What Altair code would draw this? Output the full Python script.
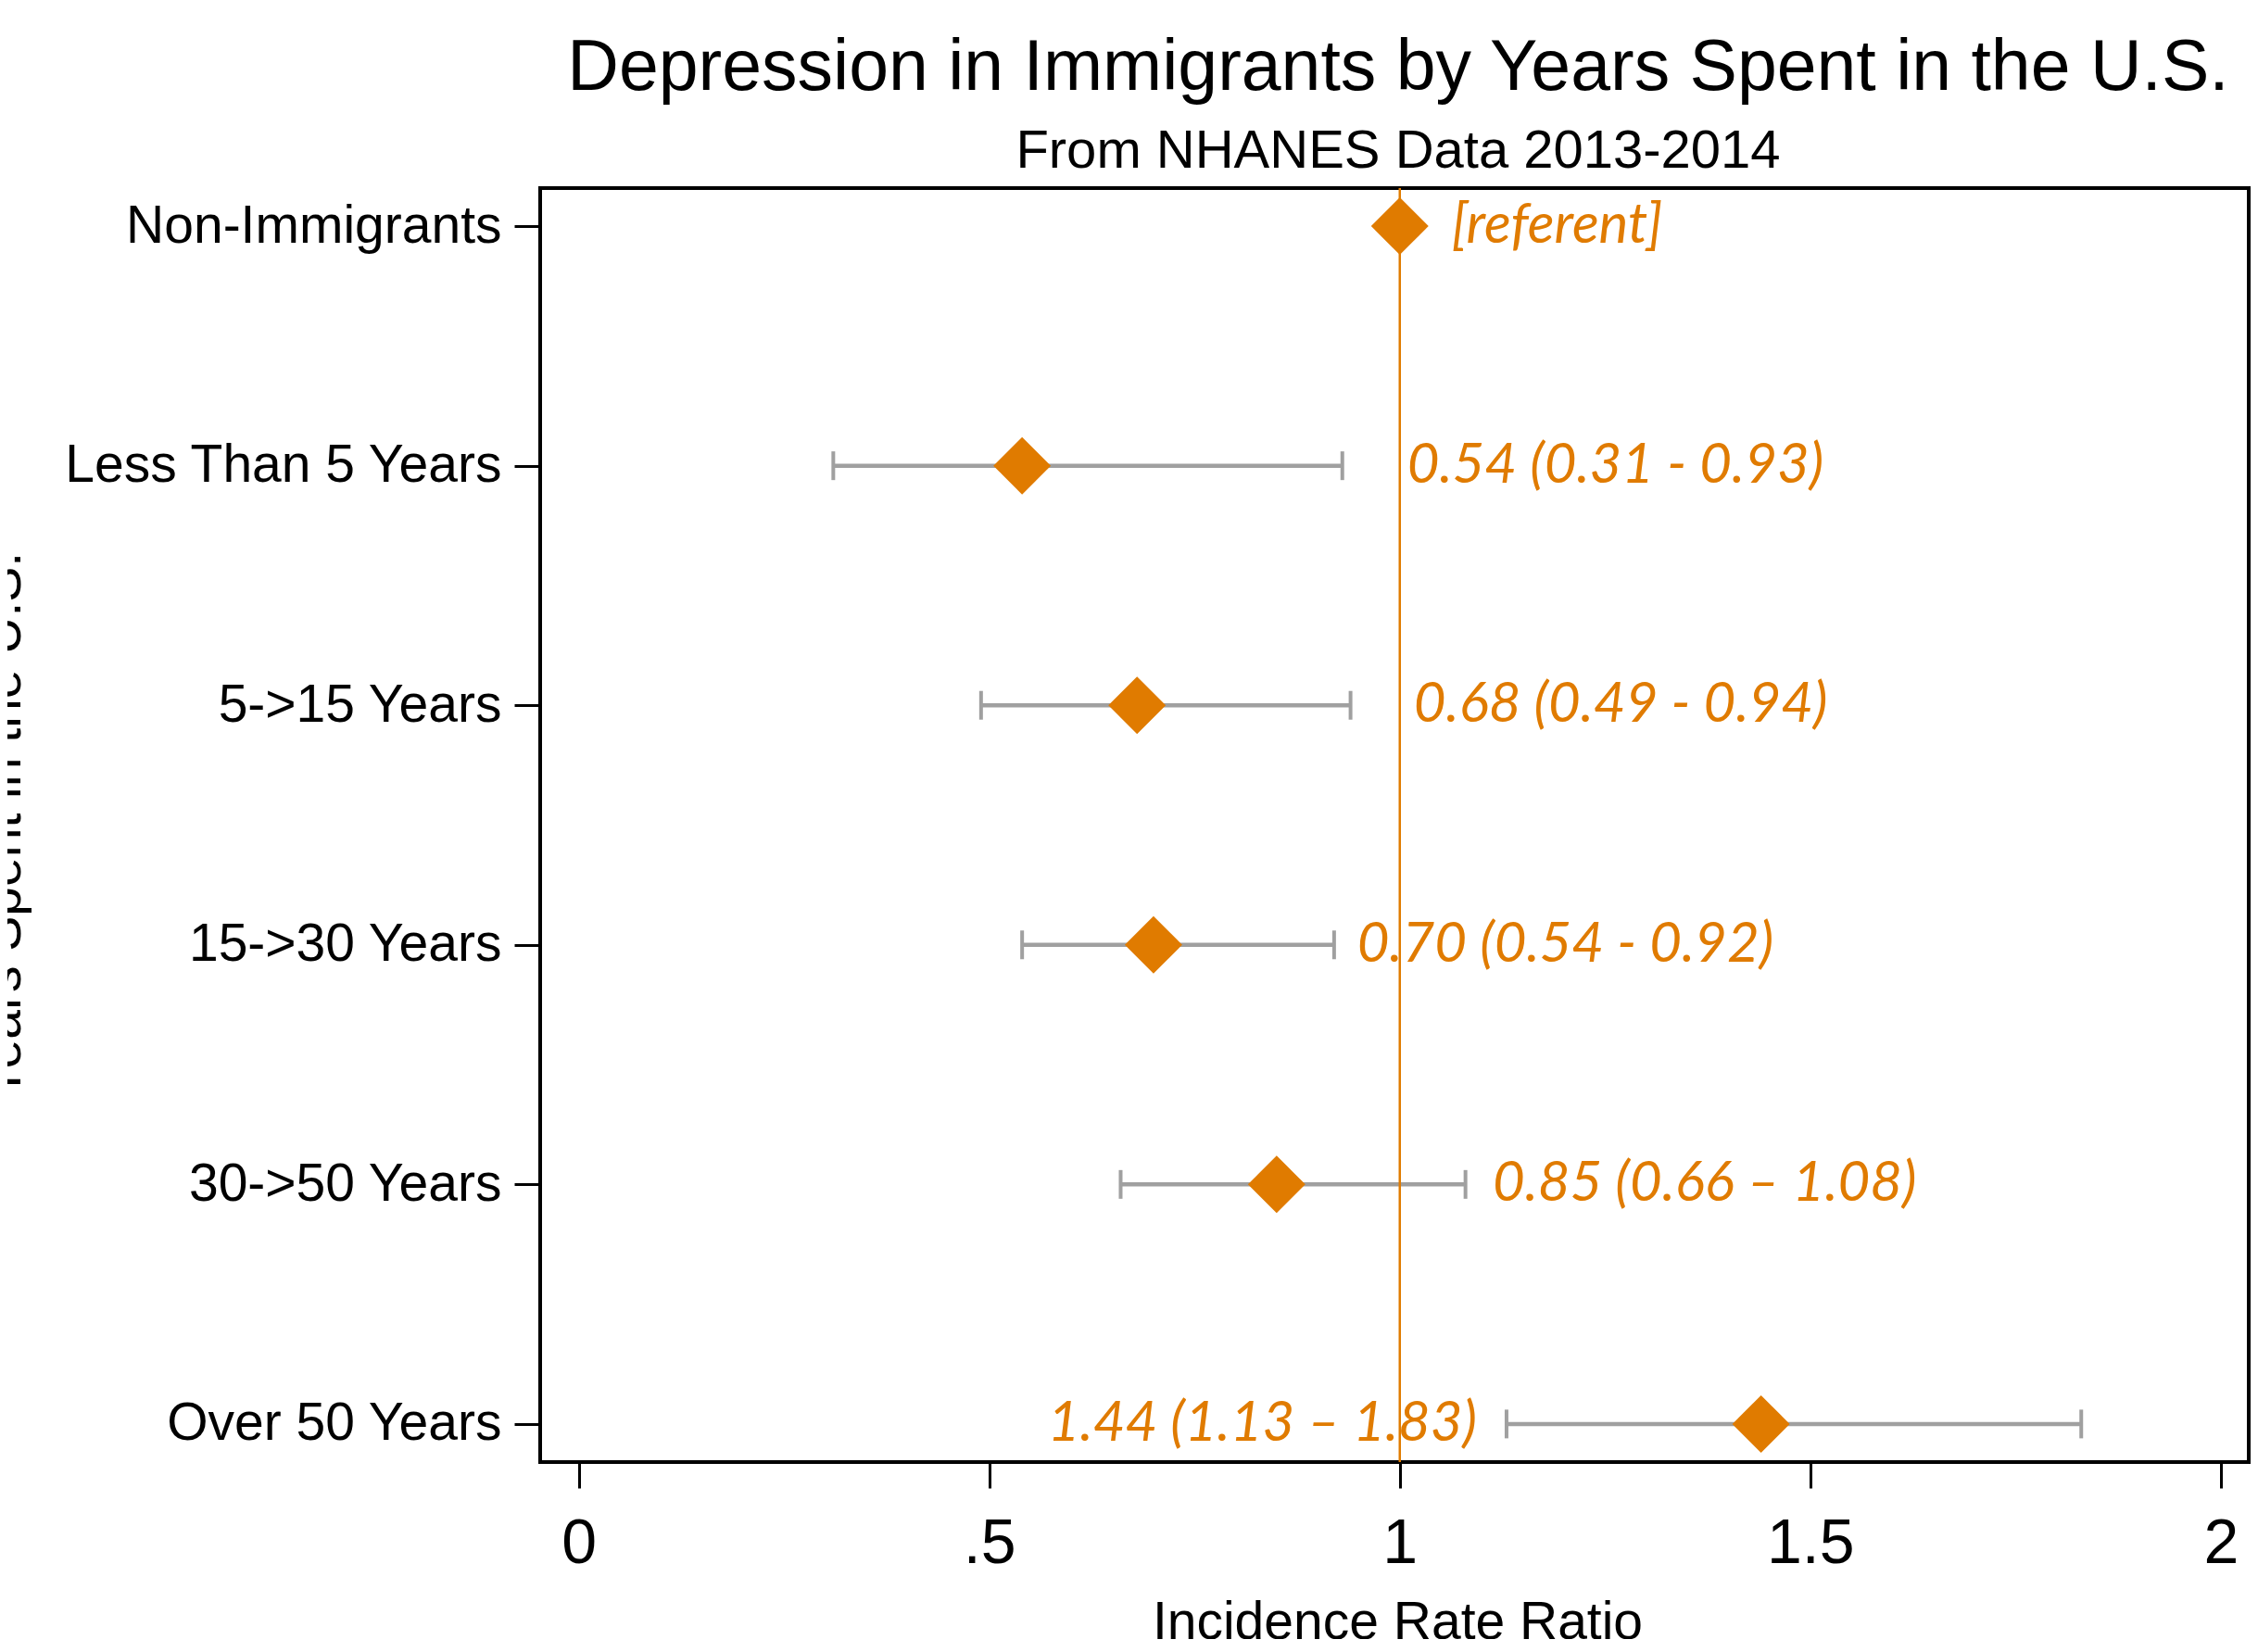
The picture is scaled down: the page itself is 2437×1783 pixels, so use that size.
import altair as alt
import pandas as pd

# ---- data ----
categories = ["Non-Immigrants", "Less Than 5 Years", "5->15 Years",
              "15->30 Years", "30->50 Years", "Over 50 Years"]
irr = [1.00, 0.54, 0.68, 0.70, 0.85, 1.44]
ci_lo = [None, 0.31, 0.49, 0.54, 0.66, 1.13]
ci_hi = [None, 0.93, 0.94, 0.92, 1.08, 1.83]
labels = ["[referent]", "0.54 (0.31 - 0.93)", "0.68 (0.49 - 0.94)",
          "0.70 (0.54 - 0.92)", "0.85 (0.66 \u2013 1.08)", "1.44 (1.13 \u2013 1.83)"]
label_at = [1.063, 1.009, 1.017, 0.948, 1.113, 1.094]
label_side = ["left", "left", "left", "left", "left", "right"]
referent = [1.0]
x_ticks = [0, 0.5, 1, 1.5, 2]
x_tick_labels = ["0", ".5", "1", "1.5", "2"]

df = pd.DataFrame({
    "cat": categories, "irr": irr, "lo": ci_lo, "hi": ci_hi,
    "label": labels, "label_at": label_at, "side": label_side,
})
ref_df = pd.DataFrame({"ref": referent})

ORANGE = "#E07B00"
GRAY = "#A0A0A0"
FONT = "Liberation Sans, Arial, Helvetica, sans-serif"
LFONT = "Lato, DejaVu Sans Condensed, sans-serif"
LSIZE = 60

label_expr = " : ".join(
    f"datum.value == {v} ? '{t}'" for v, t in zip(x_ticks, x_tick_labels)
) + " : ''"

PW, PH = 1844, 1375

xscale = alt.Scale(domain=[-0.047, 2.034], nice=False, zero=False)
yscale = alt.Scale(type="point", padding=0.159)

x_axis = alt.Axis(
    values=x_ticks, labelExpr=label_expr, labelFontSize=68, labelPadding=26,
    labelFlush=False, tickSize=28, tickWidth=3, tickColor="black",
    labelColor="black", grid=False, domain=False,
    title="Incidence Rate Ratio", titleFontSize=57, titleFontWeight="normal",
    titleColor="black", titleX=PW / 2 + 3, titleY=190, titleAlign="center",
    titleBaseline="alphabetic", labelFont=FONT, titleFont=FONT,
)
y_axis = alt.Axis(
    labelFontSize=57, labelPadding=14, labelLimit=2000, tickSize=28,
    tickWidth=3, tickColor="black", labelColor="black", grid=False,
    domain=False, title="Years Spent in the U.S.", titleFontSize=57,
    titleFontWeight="normal", titleColor="black", titleAngle=270,
    titleX=-562, titleY=PH / 2, titleAlign="center",
    titleBaseline="alphabetic", labelFont=FONT, titleFont=FONT,
)

base = alt.Chart(df)

bars = base.transform_filter("isValid(datum.lo)").mark_rule(
    color=GRAY, strokeWidth=4.5
).encode(
    x=alt.X("lo:Q", scale=xscale, axis=x_axis),
    x2="hi:Q",
    y=alt.Y("cat:N", sort=categories, scale=yscale, axis=y_axis),
)
cap_lo = base.transform_filter("isValid(datum.lo)").mark_tick(
    color=GRAY, size=31, thickness=4, orient="vertical", opacity=1
).encode(
    x=alt.X("lo:Q", scale=xscale),
    y=alt.Y("cat:N", sort=categories, scale=yscale),
)
cap_hi = base.transform_filter("isValid(datum.hi)").mark_tick(
    color=GRAY, size=31, thickness=4, orient="vertical", opacity=1
).encode(
    x=alt.X("hi:Q", scale=xscale),
    y=alt.Y("cat:N", sort=categories, scale=yscale),
)
ref_line = alt.Chart(ref_df).mark_rule(color=ORANGE, strokeWidth=2.5).encode(
    x=alt.X("ref:Q", scale=xscale)
)
points = base.mark_point(
    shape="diamond", filled=True, size=3844, color=ORANGE, opacity=1,
    strokeWidth=0
).encode(
    x=alt.X("irr:Q", scale=xscale),
    y=alt.Y("cat:N", sort=categories, scale=yscale),
)
text_left = base.transform_filter("datum.side == 'left'").mark_text(
    align="left", baseline="middle", font=LFONT, fontStyle="italic",
    fontSize=LSIZE, color=ORANGE
).encode(
    x=alt.X("label_at:Q", scale=xscale),
    y=alt.Y("cat:N", sort=categories, scale=yscale),
    text="label:N",
)
text_right = base.transform_filter("datum.side == 'right'").mark_text(
    align="right", baseline="middle", font=LFONT, fontStyle="italic",
    fontSize=LSIZE, color=ORANGE
).encode(
    x=alt.X("label_at:Q", scale=xscale),
    y=alt.Y("cat:N", sort=categories, scale=yscale),
    text="label:N",
)

chart = alt.layer(
    bars, cap_lo, cap_hi, ref_line, points, text_left, text_right
).properties(
    width=PW, height=PH,
    autosize=alt.AutoSizeParams(type="none"),
    padding={"left": 575, "top": 195, "right": 2, "bottom": 191},
    title=alt.Title(
        "Depression in Immigrants by Years Spent in the U.S.",
        subtitle="From NHANES Data 2013-2014",
        fontSize=77, subtitleFontSize=58, font=FONT, subtitleFont=FONT,
        fontWeight="normal", color="black", subtitleColor="black",
        anchor="middle", frame="group", offset=8, subtitlePadding=22,
        dx=4,
    ),
).configure(
    background="white"
).configure_view(
    stroke="black", strokeWidth=4
)

chart.save("out.html", embed_options={"renderer": "svg", "actions": False})
